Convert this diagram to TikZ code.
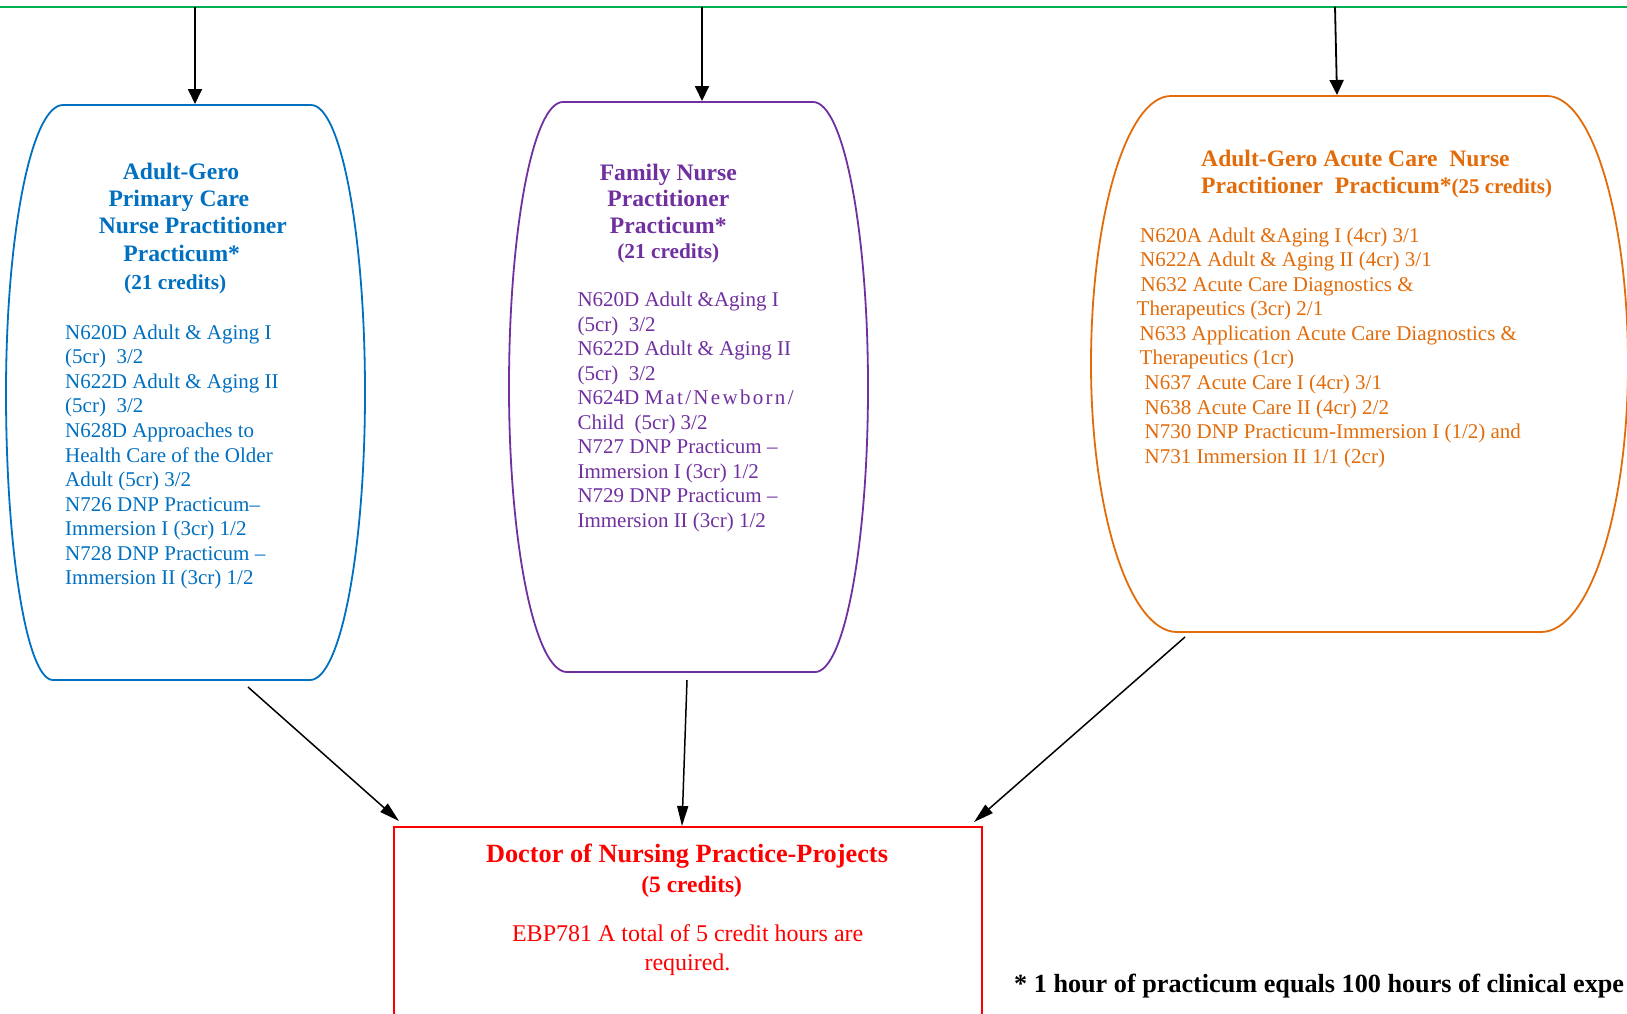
\documentclass[tikz,border=0pt]{standalone}
\usepackage{fontspec}
\setmainfont{Liberation Serif}
\usetikzlibrary{arrows.meta}
\definecolor{cblue}{HTML}{0070C0}
\definecolor{cpurple}{HTML}{7030A0}
\definecolor{corange}{HTML}{E36C0A}
\definecolor{cred}{HTML}{FF0000}
\definecolor{cgreen}{HTML}{00B050}
\newcommand{\barrelshape}[9]{%
  \draw[#1, shapeline] (#6,#4) -- (#7,#4)
    .. controls ({#7+0.5523*(#3-#7)},#4) and (#3,{#4+0.4477*((#5-#4)/2)}) .. (#3,{(#4+#5)/2})
    .. controls (#3,{#5-0.4477*((#5-#4)/2)}) and ({#9+0.5523*(#3-#9)},#5) .. (#9,#5)
    -- (#8,#5)
    .. controls ({#8-0.5523*(#8-#2)},#5) and (#2,{#5-0.4477*((#5-#4)/2)}) .. (#2,{(#4+#5)/2})
    .. controls (#2,{#4+0.4477*((#5-#4)/2)}) and ({#6-0.5523*(#6-#2)},#4) .. cycle;}
\begin{document}
\begin{tikzpicture}[x=1pt,y=-1pt,
  shapeline/.style={line width=1.8pt},
  arrtop/.style={-{Triangle[length=15pt,width=14pt]}, line width=1.8pt, black},
  arrbot/.style={-{Triangle[length=20pt,width=11pt]}, line width=1.5pt, black},
  ttl/.style={font=\fontsize{23.6}{28}\selectfont\bfseries, inner sep=0pt, anchor=base},
  cred21/.style={font=\fontsize{21.3}{26}\selectfont\bfseries, inner sep=0pt, anchor=base},
  lst/.style={font=\fontsize{21}{24.55}\selectfont, align=left, inner sep=0pt, anchor=north west}]
\useasboundingbox (0,0) rectangle (1627,1013);
\clip (0,0) rectangle (1627,1013);
\fill[white] (0,0) rectangle (1627,1013);

% top green line
\draw[cgreen, line width=1.8pt] (0,6.7) -- (1627,6.7);
\coordinate (g1) at (195,6.7);
\coordinate (g2) at (702,6.7);
\coordinate (g3) at (1335,6.7);

% shapes
\barrelshape{cblue}{6}{365}{105}{680}{63}{311}{53}{310}
\barrelshape{cpurple}{509}{868}{102}{672}{563}{813}{567}{815}
\barrelshape{corange}{1091}{1628}{96}{632}{1171}{1547}{1177}{1541}
\draw[cred, line width=1.8pt] (394,827) rectangle (982,1040);

% connector end points
\coordinate (pcT) at (195,104);
\coordinate (fnT) at (702,101);
\coordinate (acT) at (1337,95);
\coordinate (pcB) at (248,687);
\coordinate (fnB) at (687,680);
\coordinate (acB) at (1185,637);
\coordinate (dnpA) at (399,821);
\coordinate (dnpB) at (682,826);
\coordinate (dnpC) at (974,822);

\draw[arrtop] (g1) -- (pcT);
\draw[arrtop] (g2) -- (fnT);
\draw[arrtop] (g3) -- (acT);
\draw[arrbot] (pcB) -- (dnpA);
\draw[arrbot] (fnB) -- (dnpB);
\draw[arrbot] (acB) -- (dnpC);

% left box text
\node[ttl, text=cblue] (pc1) at (181,179.3) {Adult-Gero};
\node[ttl, text=cblue] (pc2) at (178.8,206.8) {Primary Care};
\node[ttl, text=cblue] (pc3) at (192.8,233.7) {Nurse Practitioner};
\node[ttl, text=cblue] (pc4) at (181.7,261.2) {Practicum*};
\node[cred21, text=cblue] (pc5) at (175.2,289.5) {(21 credits)};
\node[lst, text=cblue] (pclist) at (65,324.5) {N620D Adult \& Aging I\\(5cr)\ \ 3/2\\N622D Adult \& Aging II\\(5cr)\ \ 3/2\\N628D Approaches to\\Health Care of the Older\\Adult (5cr) 3/2\\N726 DNP Practicum–\\Immersion I (3cr) 1/2\\N728 DNP Practicum –\\Immersion II (3cr) 1/2};

% middle box text
\node[ttl, text=cpurple] (fn1) at (668.3,180) {Family Nurse};
\node[ttl, text=cpurple] (fn2) at (668.3,206.7) {Practitioner};
\node[ttl, text=cpurple] (fn3) at (668.3,233.5) {Practicum*};
\node[cred21, text=cpurple] (fn4) at (668.3,258.4) {(21 credits)};
\node[lst, text=cpurple] (fnlist) at (577.3,291.8) {N620D Adult \&Aging I\\(5cr)\ \ 3/2\\N622D Adult \& Aging II\\(5cr)\ \ 3/2\\N624D {\addfontfeature{LetterSpace=11}Mat/Newborn/}\\Child\ \ (5cr) 3/2\\N727 DNP Practicum –\\Immersion I (3cr) 1/2\\N729 DNP Practicum –\\Immersion II (3cr) 1/2};

% right box text
\node[ttl, text=corange, anchor=base west] (ac1) at (1201,166) {Adult-Gero Acute Care\ \ Nurse};
\node[ttl, text=corange, anchor=base west] (ac2) at (1201,193.3) {Practitioner\ \ Practicum*{\fontsize{21}{26}\selectfont(25 credits)}};
\node[lst, text=corange] (aclist) at (1136.5,227.4) {\hspace*{3.5pt}N620A Adult \&Aging I (4cr) 3/1\\\hspace*{3.5pt}N622A Adult \& Aging II (4cr) 3/1\\\hspace*{4pt}N632 Acute Care Diagnostics \&\\Therapeutics (3cr) 2/1\\\hspace*{3pt}N633 Application Acute Care Diagnostics \&\\\hspace*{3pt}Therapeutics (1cr)\\\hspace*{8pt}N637 Acute Care I (4cr) 3/1\\\hspace*{8pt}N638 Acute Care II (4cr) 2/2\\\hspace*{8pt}N730 DNP Practicum-Immersion I (1/2) and\\\hspace*{8pt}N731 Immersion II 1/1 (2cr)};

% bottom box text
\node[inner sep=0pt, anchor=base, text=cred, font=\fontsize{26.3}{30}\selectfont\bfseries] (dnp1) at (687,862) {Doctor of Nursing Practice-Projects};
\node[inner sep=0pt, anchor=base, text=cred, font=\fontsize{23.5}{28}\selectfont\bfseries] (dnp2) at (691.7,892) {(5 credits)};
\node[inner sep=0pt, anchor=base, text=cred, font=\fontsize{24}{29}\selectfont] (dnp3) at (687.7,941.7) {EBP781 A total of 5 credit hours are};
\node[inner sep=0pt, anchor=base, text=cred, font=\fontsize{24}{29}\selectfont] (dnp4) at (687.5,970) {required.};

% footnote (cut off at the page edge, as printed)
\node[inner sep=0pt, anchor=base west, font=\fontsize{26.2}{30}\selectfont\bfseries] (note) at (1014,992) {* 1 hour of practicum equals 100 hours of clinical expe};
\end{tikzpicture}
\end{document}
